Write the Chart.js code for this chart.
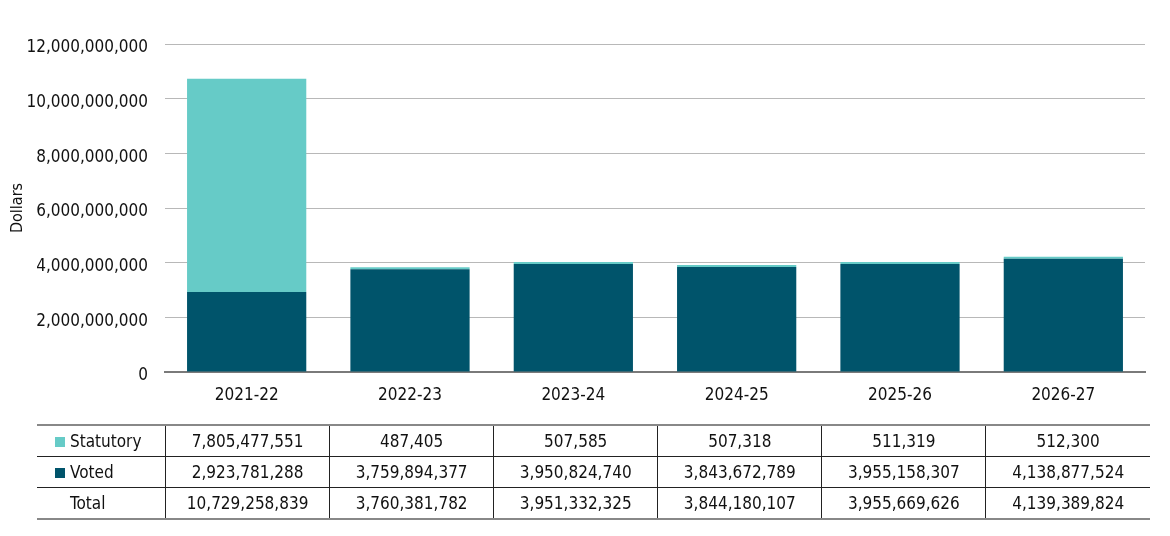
<!DOCTYPE html>
<html>
<head>
<meta charset="utf-8">
<script src="https://cdn.jsdelivr.net/npm/chart.js@4"></script>
<style>
  html, body { margin: 0; padding: 0; background: #fff; }
  body { width: 1170px; height: 536px; position: relative; overflow: hidden;
         font-family: "Liberation Sans Narrow", "DejaVu Sans Condensed", sans-serif; }
  #wrap { position: absolute; left: 0; top: 0; width: 1170px; height: 536px; }
  #tbl { position: absolute; top: 424px; border-collapse: collapse; font-size: 17px; color: #111; }
  #tbl td { height: 30px; padding: 0; text-align: center; border-left: 1px solid #222; border-bottom: 1px solid #222; }
  #tbl tr:first-child td { border-top: 2px solid #888; }
  #tbl tr:last-child td { border-bottom: 2px solid #888; }
  #tbl td.lab { text-align: left; border-left: none; padding-left: 18px; }
  .sw { display: inline-block; width: 10px; height: 10px; margin-right: 5px; vertical-align: 0px; }
  .nosw { display: inline-block; width: 15px; }
</style>
</head>
<body>
<div id="wrap"><canvas id="c"></canvas></div>
<table id="tbl"></table>
<script>
// valori del grafico
const categories = ["2021-22", "2022-23", "2023-24", "2024-25", "2025-26", "2026-27"];
const statutory = [7805477551, 487405, 507585, 507318, 511319, 512300];
const voted = [2923781288, 3759894377, 3950824740, 3843672789, 3955158307, 4138877524];
const totals = [10729258839, 3760381782, 3951332325, 3844180107, 3955669626, 4139389824];
const yTicks = [0, 2000000000, 4000000000, 6000000000, 8000000000, 10000000000, 12000000000];

const VOTED_COLOR = "#00546b";
const STAT_COLOR = "#66cbc7";
const FONT = "'Liberation Sans Narrow', 'DejaVu Sans Condensed', sans-serif";
const fmt = (v) => v.toLocaleString("en-US");

// tabella dati sotto il grafico
function buildTable(chart) {
  const left = chart.chartArea.left;
  const colW = (chart.chartArea.right - left) / categories.length;
  const tbl = document.getElementById("tbl");
  tbl.style.left = "37px";
  const rows = [
    { name: "Statutory", color: STAT_COLOR, vals: statutory },
    { name: "Voted", color: VOTED_COLOR, vals: voted },
    { name: "Total", color: null, vals: totals },
  ];
  let html = "<colgroup><col style='width:" + (left - 37) + "px'>";
  categories.forEach(() => { html += "<col style='width:" + colW + "px'>"; });
  html += "</colgroup>";
  rows.forEach((r) => {
    html += "<tr><td class='lab'>" +
      (r.color ? "<span class='sw' style='background:" + r.color + "'></span>" : "<span class='nosw'></span>") +
      r.name + "</td>";
    r.vals.forEach((v) => { html += "<td>" + fmt(v) + "</td>"; });
    html += "</tr>";
  });
  tbl.innerHTML = html;
  tbl.style.width = (chart.chartArea.right - 37 + 5) + "px";
}

const tablePlugin = {
  id: "tablePlugin",
  afterRender(chart) {
    if (!chart._tableDone) { chart._tableDone = true; buildTable(chart); }
  },
};

const chart = new Chart(document.getElementById("c").getContext("2d"), {
  type: "bar",
  data: {
    labels: categories,
    datasets: [
      { label: "Voted", data: voted, backgroundColor: VOTED_COLOR, borderWidth: 0 },
      { label: "Statutory", data: statutory, backgroundColor: STAT_COLOR, borderWidth: 0, minBarLength: 2 },
    ],
  },
  options: {
    responsive: true,
    maintainAspectRatio: false,
    animation: false,
    categoryPercentage: 1,
    barPercentage: 0.73,
    layout: { padding: { top: 44, right: 25, bottom: 124, left: 0 } },
    plugins: { legend: { display: false }, tooltip: { enabled: false } },
    scales: {
      x: {
        stacked: true,
        grid: { display: false },
        border: { display: true, color: "#7a7a7a", width: 2 },
        ticks: { color: "#111", font: { family: FONT, size: 17 }, padding: 5 },
        afterFit: (s) => { s.height = 40; },
      },
      y: {
        stacked: true,
        min: 0,
        max: 12000000000,
        afterBuildTicks: (s) => { s.ticks = yTicks.map((v) => ({ value: v })); },
        afterFit: (s) => { s.width = 165; },
        border: { display: false },
        grid: { color: "#b8b8b8", lineWidth: 1, drawTicks: false },
        ticks: { color: "#111", font: { family: FONT, size: 17 }, padding: 17, labelOffset: 4, callback: (v) => fmt(v) },
        title: { display: true, text: "Dollars", color: "#111", font: { family: FONT, size: 16 }, padding: { top: 8, bottom: 0 } },
      },
    },
  },
  plugins: [tablePlugin],
});
</script>
</body>
</html>
